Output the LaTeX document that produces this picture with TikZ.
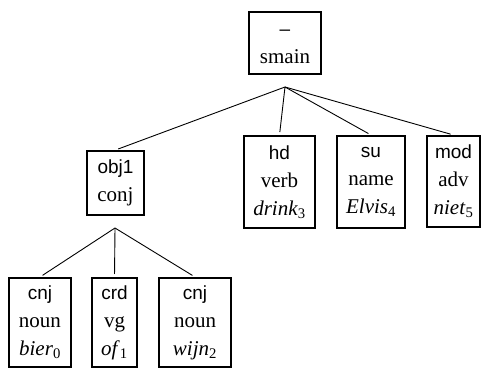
\documentclass[tikz,border=0pt]{standalone}
\usepackage{fontspec}
\setmainfont{Liberation Serif}
\setsansfont{Liberation Sans}
\newcommand{\lab}[1]{{\sffamily\fontsize{19}{28}\selectfont #1}}
\tikzset{
  tnode/.style={draw, line width=2pt, inner sep=0pt, align=center,
    font=\fontsize{21}{28}\selectfont},
  edge/.style={line width=0.9pt, shorten >=3pt},
}
\begin{document}
\begin{tikzpicture}[x=1pt,y=-1pt]
\useasboundingbox (0,0) rectangle (482,371);
\node[tnode, minimum width=72pt, minimum height=62pt] (smain) at (285,43) {\lab{–\vphantom{hd}}\\smain};
\node[tnode, minimum width=57pt, minimum height=64pt] (obj1) at (115.5,183) {\lab{obj1}\\conj};
\node[tnode, minimum width=71pt, minimum height=92pt] (hd) at (279.5,182) {\lab{hd}\\verb\\\textit{drink}\textsubscript{3}};
\node[tnode, minimum width=68pt, minimum height=92pt] (su) at (371,182) {\lab{su}\\name\\\textit{Elvis}\textsubscript{4}};
\node[tnode, minimum width=53pt, minimum height=91pt] (mod) at (453.5,181.5) {\lab{mod}\\adv\\\textit{niet}\textsubscript{5}};
\node[tnode, minimum width=62pt, minimum height=89pt] (cnja) at (40,322.5) {\lab{cnj}\\noun\\\textit{bier}\textsubscript{0}};
\node[tnode, minimum width=45pt, minimum height=89pt] (crd) at (114.5,322.5) {\lab{crd}\\vg\\\textit{of}\textsubscript{1}};
\node[tnode, minimum width=72pt, minimum height=89pt] (cnjb) at (195,322.5) {\lab{cnj}\\noun\\\textit{wijn}\textsubscript{2}};
\coordinate (j0) at (285,87);
\coordinate (j1) at (115,228);
\draw[edge] (j0) -- (obj1.north);
\draw[edge] (j0) -- (hd.north);
\draw[edge] (j0) -- (su.north);
\draw[edge] (j0) -- (mod.north);
\draw[edge] (j1) -- (cnja.north);
\draw[edge] (j1) -- (crd.north);
\draw[edge] (j1) -- (cnjb.north);
\end{tikzpicture}
\end{document}
